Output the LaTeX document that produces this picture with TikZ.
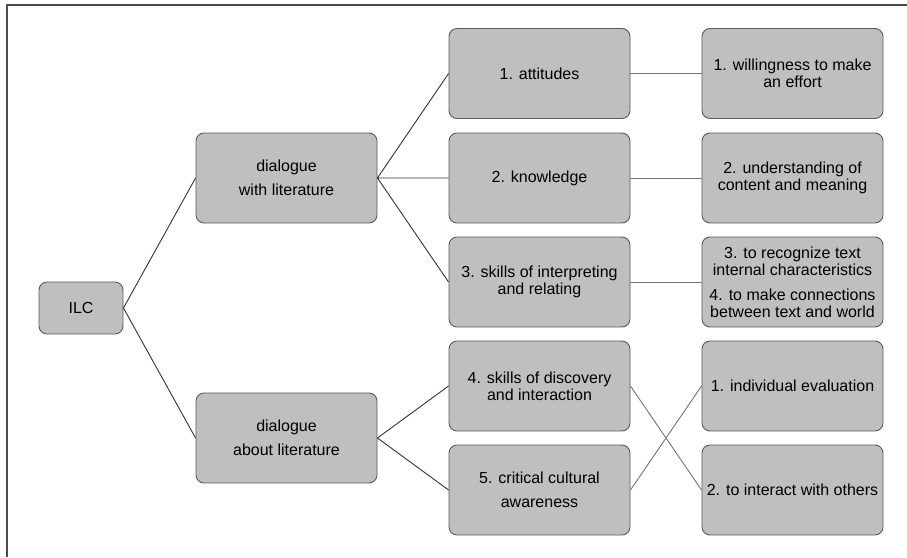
\documentclass[tikz,border=0pt]{standalone}
\usepackage{fontspec}
\setmainfont{Liberation Sans}

\begin{document}
\begin{tikzpicture}[x=1pt, y=-1pt,
        box/.style={draw=black!65, fill=black!25, rounded corners=8pt, line width=0.9pt,
        minimum width=181pt, minimum height=90pt, inner sep=2pt, align=center,
        font=\fontsize{16}{17}\selectfont},
        link/.style={draw=black!80, line width=0.9pt},
        sublink/.style={draw=black!55, line width=0.9pt}]
        \useasboundingbox (0,0) rectangle (907,557);
        \draw[black!70, line width=1.5pt] (7,557) -- (7,5) -- (907,5);

        % root and the two dialogues
        \draw(81,308) node[box, minimum width=84pt, minimum height=52pt](ilc){ILC};
        \draw(286.5,178) node[box](dw){dialogue\\[7pt]with literature};
        \draw(286.5,438) node[box](da){dialogue\\[7pt]about literature};

        % components
        \draw(539.5,73.5) node[box](c1){1. attitudes};
        \draw(539.5,178) node[box](c2){2. knowledge};
        \draw(539.5,282) node[box](c3){3. skills of interpreting\\and relating};
        \draw(539.5,386) node[box](c4){4. skills of discovery\\and interaction};
        \draw(539.5,490) node[box](c5){5. critical cultural\\[7pt]awareness};

        % dimensions
        \draw(792.5,73.5) node[box](d1){1. willingness to make\\an effort};
        \draw(792.5,178) node[box](d2){2. understanding of\\content and meaning};
        \draw(792.5,282) node[box](d3){3. to recognize text\\internal characteristics\\[8pt]4. to make connections\\between text and world};
        \draw(792.5,386) node[box](d4){1. individual evaluation};
        \draw(792.5,490) node[box](d5){2. to interact with others};

        \draw[link] (ilc.east) -- (dw.west) (ilc.east) -- (da.west);
        \draw[link] (dw.east) -- (c1.west) (dw.east) -- (c2.west) (dw.east) -- (c3.west);
        \draw[link] (da.east) -- (c4.west) (da.east) -- (c5.west);
        \draw[sublink] (c1.east) -- (d1.west) (c2.east) -- (d2.west) (c3.east) -- (d3.west);
        \draw[sublink] (c4.east) -- (d5.west) (c5.east) -- (d4.west);
    \end{tikzpicture}
\end{document}
